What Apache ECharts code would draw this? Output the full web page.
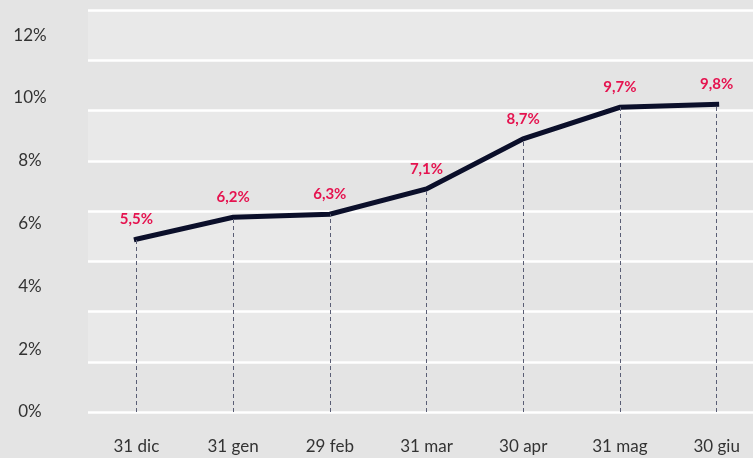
<!DOCTYPE html>
<html><head><meta charset="utf-8">
<script src="https://cdn.jsdelivr.net/npm/echarts@6/dist/echarts.min.js"></script>
<style>html,body{margin:0;padding:0;background:#e4e4e4;overflow:hidden;}#c{width:765px;height:458px;}</style>
</head><body><div id="c"></div>
<script>
const categories = ['31 dic','31 gen','29 feb','31 mar','30 apr','31 mag','30 giu'];
const values = [5.5, 6.2, 6.3, 7.1, 8.7, 9.7, 9.8];
const yTicks = [0, 2, 4, 6, 8, 10, 12];

const chart = echarts.init(document.getElementById('c'), null, {renderer:'canvas'});
const fmt = v => String(v).replace('.', ',') + '%';
chart.setOption({
  backgroundColor: '#e4e4e4',
  animation: false,
  grid: {left: 88, top: 10, right: 0, bottom: 46, containLabel: false},
  xAxis: {
    type: 'category', data: categories, boundaryGap: true,
    axisLine: {show: false}, axisTick: {show: false},
    axisLabel: {color: '#333', fontSize: 17, fontFamily: 'Lato, sans-serif', margin: 26}
  },
  yAxis: [{
    type: 'value', min: 0, max: 12.8, interval: 1.6,
    axisLabel: {show: false}, axisLine: {show: false}, axisTick: {show: false},
    splitLine: {show: true, lineStyle: {color: '#ffffff', width: 2.5}},
    splitArea: {show: true, areaStyle: {color: ['#e4e4e4', '#e9e9e9']}}
  }, {
    type: 'value', min: 0, max: 12.8, interval: 2, position: 'left',
    axisLine: {show: false}, axisTick: {show: false}, splitLine: {show: false},
    axisLabel: {color: '#333', fontSize: 17, fontFamily: 'Lato, sans-serif', margin: 58, align: 'center',
      showMaxLabel: false, formatter: v => yTicks.includes(v) ? v + '%' : ''}
  }],
  series: [{
    type: 'line', data: values, yAxisIndex: 0,
    symbol: 'circle', symbolSize: 1, showSymbol: true,
    itemStyle: {color: '#0b0f2a'},
    lineStyle: {color: '#0b0f2a', width: 5, cap: 'square', join: 'miter'},
    label: {show: true, position: 'top', distance: 12, color: '#e5134f', fontWeight: 'bold',
      fontSize: 15, fontFamily: 'Lato, sans-serif', formatter: p => fmt(p.value)},
    markLine: {
      silent: true, symbol: 'none', label: {show: false},
      lineStyle: {color: '#5a5e75', type: [4, 3], width: 1},
      data: values.map((v, i) => [{coord: [i, 0]}, {coord: [i, v]}])
    },
    z: 3
  }]
});
</script></body></html>
